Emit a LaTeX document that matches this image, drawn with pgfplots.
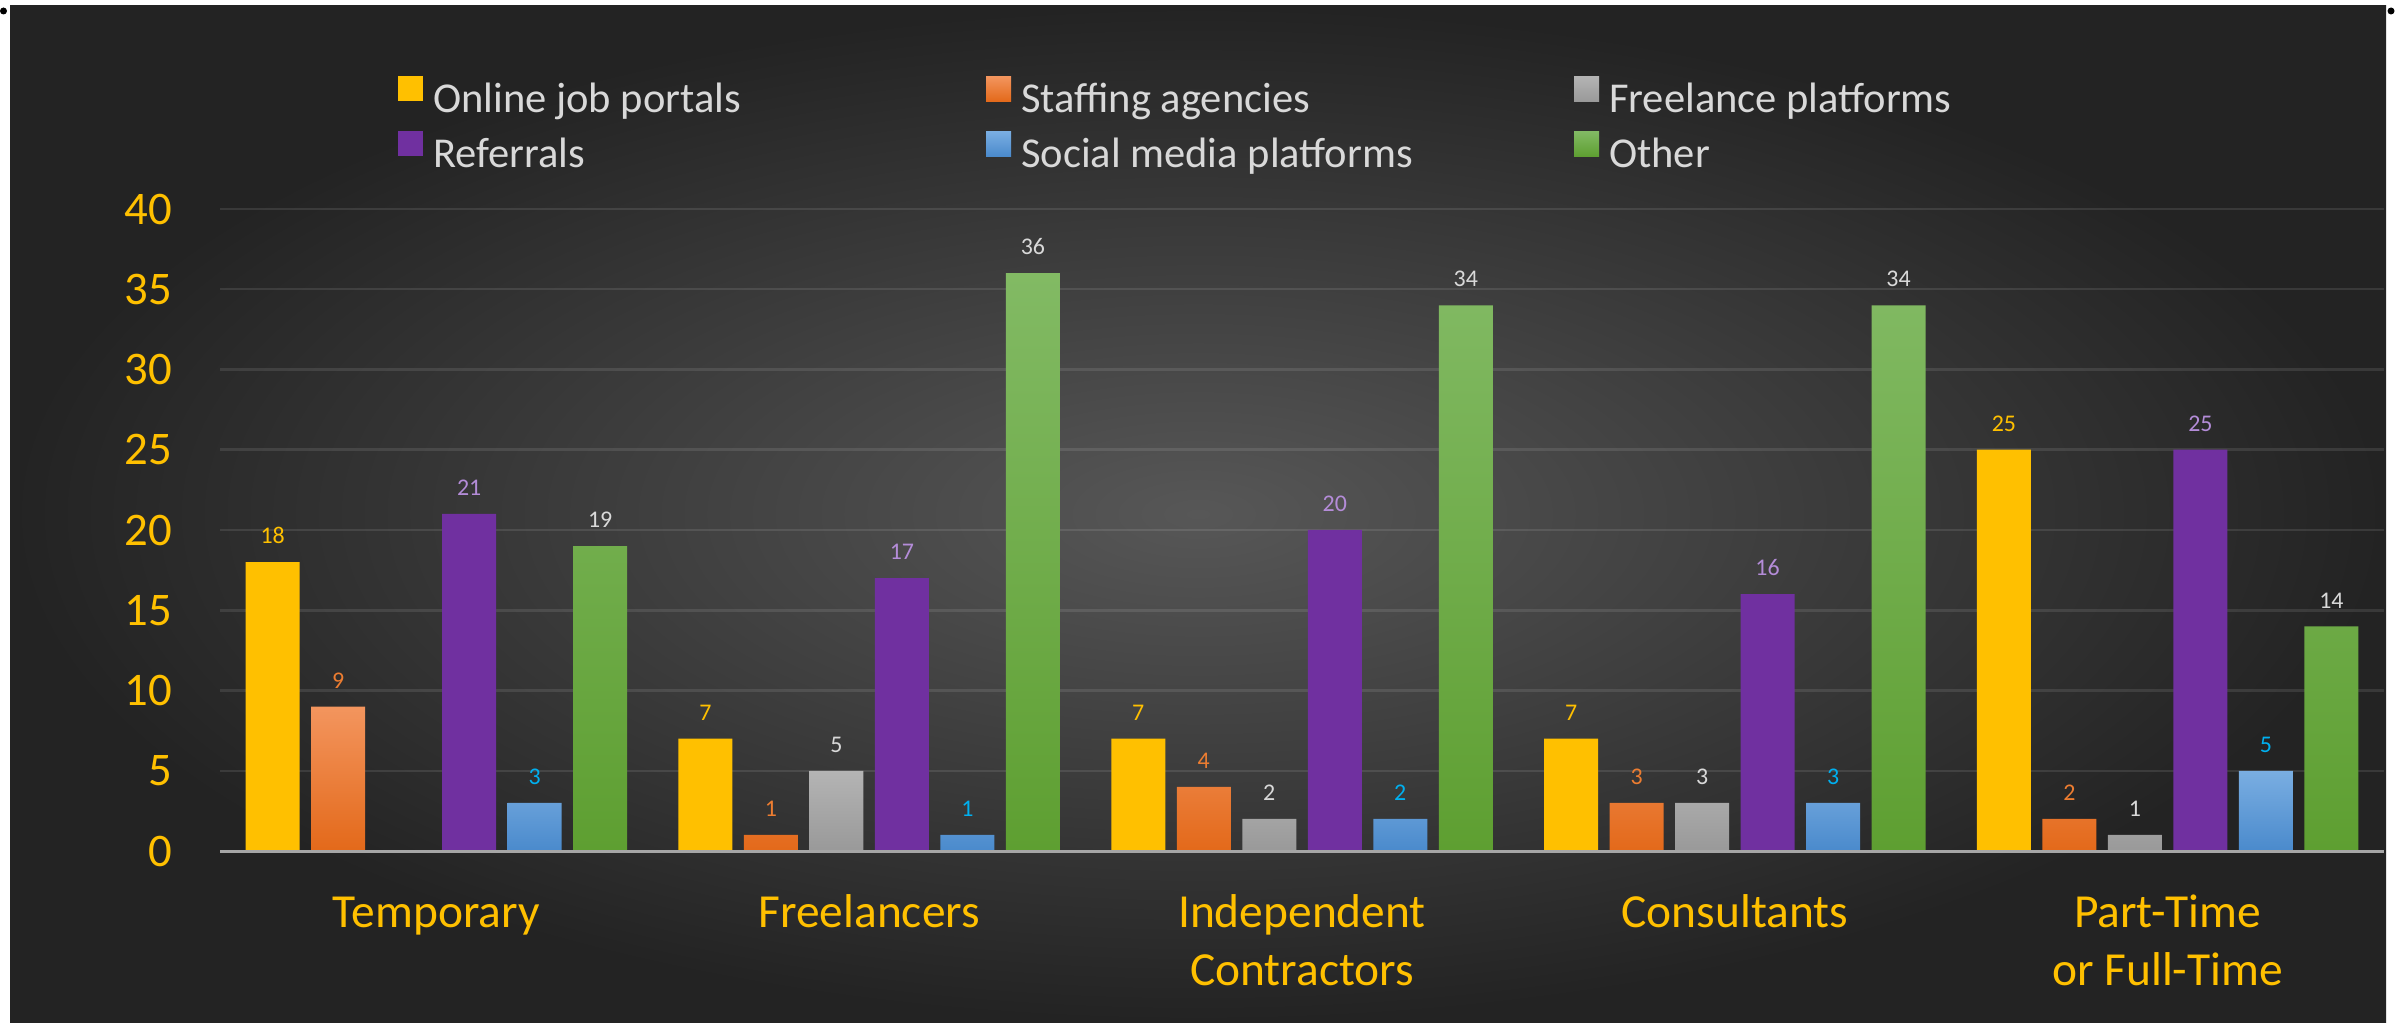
\documentclass[border=0pt]{standalone}
\usepackage{pgfplots}
\pgfplotsset{compat=1.18}
\usepackage{fontspec}
\setmainfont{Carlito}
\definecolor{tickyellow}{HTML}{FFC000}
\definecolor{legtext}{HTML}{D9D9D9}
\definecolor{bgin}{HTML}{575757}
\definecolor{bgout}{HTML}{232323}
\definecolor{cyel}{HTML}{FFC000}
\definecolor{corT}{HTML}{F3955E}
\definecolor{corB}{HTML}{E3691A}
\definecolor{cgrT}{HTML}{B4B4B4}
\definecolor{cgrB}{HTML}{999999}
\definecolor{cpur}{HTML}{7030A0}
\definecolor{cblT}{HTML}{7AAEE2}
\definecolor{cblB}{HTML}{4A8ACC}
\definecolor{cgnT}{HTML}{82BA64}
\definecolor{cgnB}{HTML}{5E9F31}
\definecolor{lyel}{HTML}{FFC000}
\definecolor{lor}{HTML}{ED7D31}
\definecolor{lgr}{HTML}{D9D9D9}
\definecolor{lpur}{HTML}{B48CD8}
\definecolor{lbl}{HTML}{00B0F0}
\definecolor{lgn}{HTML}{D9D9D9}
\definecolor{basegray}{HTML}{A6A6A6}
\newcommand\legtext[1]{\makebox[56.3mm][l]{\hspace{1mm}\rule[-1mm]{0pt}{4mm}#1}}
\pgfplotsset{leg/.style={legend image code/.code={\fill[##1] (0mm,-0.1mm) rectangle (2.5mm,2.4mm);}}}
\begin{document}
\begin{tikzpicture}
\useasboundingbox (0,0) rectangle (239.7mm,102.2mm);
\fill[white] (0,0) rectangle (239.7mm,102.2mm);
\shade[inner color=bgin, outer color=bgout] (1.02mm,0) rectangle (238.6mm,101.6mm);
\fill[black] (0.35mm,101.1mm) circle (0.35mm);
\fill[black] (239.1mm,101.1mm) circle (0.35mm);
\begin{axis}[
  at={(22mm,17.1mm)}, anchor=south west,
  scale only axis, width=216.4mm, height=64.2mm,
  xmin=-0.5, xmax=4.5, ymin=0, ymax=40,
  enlargelimits=false, clip=false,
  ybar=1.15mm, bar width=5.4mm,
  axis line style={draw=none},
  major tick length=0pt,
  xtick={0,1,2,3,4},
  xticklabels={{\vphantom{Tl}Temporary},{\vphantom{Tl}Freelancers},{\vphantom{Tl}Independent\\Contractors},{\vphantom{Tl}Consultants},{\vphantom{Tl}Part-Time\\or Full-Time}},
  xticklabel style={text=tickyellow, font=\fontsize{13.5}{16.6}\selectfont, anchor=north, inner sep=0pt, yshift=-4.3mm, align=center},
  ytick={0,5,...,40},
  yticklabel style={text=tickyellow, font=\fontsize{13.3}{16}\selectfont, anchor=east, inner sep=0pt, xshift=-4.7mm},
  /pgf/number format/assume math mode=true,
  ymajorgrids,
  grid style={white, opacity=0.1, line width=0.25mm},
  nodes near coords,
  nodes near coords style={font=\fontsize{6.8}{8}\selectfont, anchor=south, inner sep=0pt, yshift=1.75mm},
  legend columns=3,
  legend cell align=left,
  legend style={at={(0.0823,1.2065)}, anchor=north west, draw=none, fill=none,
    inner sep=0pt, outer sep=0pt, row sep=1.33mm, column sep=0pt,
    font=\fontsize{12.1}{14}\selectfont, text=legtext,
    nodes={inner sep=0pt, outer sep=0pt}},
]
\addplot[fill=cyel, draw=none, leg, every node near coord/.append style={text=lyel}]
  coordinates {(0,18) (1,7) (2,7) (3,7) (4,25)};
\addlegendentry{\legtext{Online job portals}}
\addplot[top color=corT, bottom color=corB, draw=none, leg, every node near coord/.append style={text=lor}]
  coordinates {(0,9) (1,1) (2,4) (3,3) (4,2)};
\addlegendentry{\legtext{Staffing agencies}}
\addplot[top color=cgrT, bottom color=cgrB, draw=none, leg, every node near coord/.append style={text=lgr}]
  coordinates {(1,5) (2,2) (3,3) (4,1)};
\addlegendentry{\legtext{Freelance platforms}}
\addplot[fill=cpur, draw=none, leg, every node near coord/.append style={text=lpur}]
  coordinates {(0,21) (1,17) (2,20) (3,16) (4,25)};
\addlegendentry{\legtext{Referrals}}
\addplot[top color=cblT, bottom color=cblB, draw=none, leg, every node near coord/.append style={text=lbl}]
  coordinates {(0,3) (1,1) (2,2) (3,3) (4,5)};
\addlegendentry{\legtext{Social media platforms}}
\addplot[top color=cgnT, bottom color=cgnB, draw=none, leg, every node near coord/.append style={text=lgn}]
  coordinates {(0,19) (1,36) (2,34) (3,34) (4,14)};
\addlegendentry{\legtext{Other}}
\draw[color=basegray, line width=0.3mm] (axis cs:-0.5,0) -- (axis cs:4.5,0);
\end{axis}
\end{tikzpicture}
\end{document}
